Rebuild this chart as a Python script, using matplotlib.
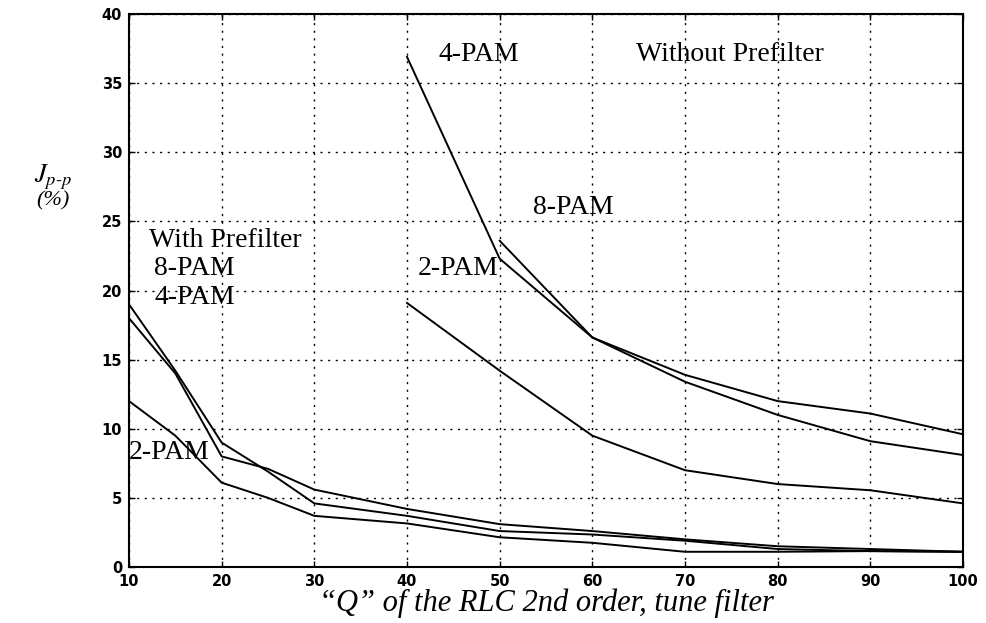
import matplotlib
matplotlib.use("Agg")
import matplotlib.pyplot as plt

plt.rcParams["mathtext.fontset"] = "stix"

# With prefilter
q_pre = [10, 15, 20, 25, 30, 40, 50, 60, 70, 80, 90, 100]
pre_8pam = [19.0, 14.2, 9.0, 6.9, 4.6, 3.7, 2.6, 2.35, 1.9, 1.3, 1.15, 1.1]
pre_4pam = [18.0, 14.0, 8.0, 7.1, 5.6, 4.2, 3.1, 2.6, 2.0, 1.5, 1.3, 1.1]
pre_2pam = [12.0, 9.5, 6.1, 5.0, 3.7, 3.15, 2.15, 1.75, 1.1, 1.1, 1.15, 1.1]

# Without prefilter
q_4pam = [40, 50, 60, 70, 80, 90, 100]
nopre_4pam = [36.9, 22.3, 16.6, 13.4, 11.0, 9.1, 8.1]
q_8pam = [50, 60, 70, 80, 90, 100]
nopre_8pam = [23.6, 16.6, 13.9, 12.0, 11.1, 9.6]
q_2pam = [40, 50, 60, 70, 80, 90, 100]
nopre_2pam = [19.1, 14.2, 9.5, 7.0, 6.0, 5.55, 4.6]

xticks = [10, 20, 30, 40, 50, 60, 70, 80, 90, 100]
yticks = [0, 5, 10, 15, 20, 25, 30, 35, 40]

serif = "Liberation Serif"

fig = plt.figure(figsize=(9.87, 6.23), dpi=100)
ax = fig.add_axes([0.1307, 0.0899, 0.845, 0.8876])

for x, y in [(q_pre, pre_8pam), (q_pre, pre_4pam), (q_pre, pre_2pam),
             (q_4pam, nopre_4pam), (q_8pam, nopre_8pam), (q_2pam, nopre_2pam)]:
    ax.plot(x, y, color="black", linewidth=1.4)

ax.set_xlim(10, 100)
ax.set_ylim(0, 40)
ax.set_xticks(xticks)
ax.set_yticks(yticks)
ax.grid(True, color="black", linestyle=(0, (1.5, 4, 1.5, 4)), linewidth=1.0)
ax.tick_params(direction="in", top=True, right=True, length=4, width=1, pad=5)
for lab in ax.get_xticklabels() + ax.get_yticklabels():
    lab.set_fontfamily("DejaVu Sans")
    lab.set_fontweight("bold")
    lab.set_fontsize(10.5)
for s in ax.spines.values():
    s.set_linewidth(1.5)

tk = dict(fontfamily=serif, fontsize=20, color="black")
ax.text(47.7, 37.1, "4-PAM", ha="center", va="center", **tk)
ax.text(74.9, 37.1, "Without Prefilter", ha="center", va="center", **tk)
ax.text(57.9, 26.0, "8-PAM", ha="center", va="center", **tk)
ax.text(45.5, 21.6, "2-PAM", ha="center", va="center", **tk)
ax.text(12.2, 23.65, "With Prefilter", ha="left", va="center", **tk)
ax.text(12.7, 21.6, "8-PAM", ha="left", va="center", **tk)
ax.text(12.7, 19.5, "4-PAM", ha="left", va="center", **tk)
ax.text(9.95, 8.3, "2-PAM", ha="left", va="center", **tk)

ax.set_xlabel("\u201cQ\u201d of the RLC 2nd order, tune filter", fontfamily=serif,
              fontstyle="italic", fontsize=22, labelpad=0)
fig.text(0.054, 0.715, r"$J_{p\text{-}p}$", fontsize=19, ha="center", va="center")
fig.text(0.054, 0.678, "(%)", fontfamily=serif, fontstyle="italic", fontsize=16,
         ha="center", va="center")

fig.savefig("out.png", dpi=100)
